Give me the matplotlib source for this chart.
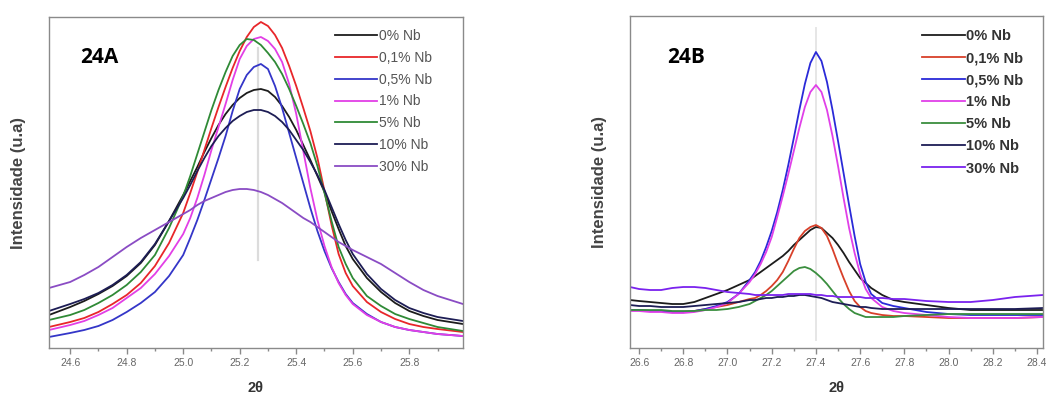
import matplotlib
matplotlib.use("Agg")
import matplotlib.pyplot as plt
from matplotlib.ticker import MultipleLocator, FormatStrFormatter

plt.rcParams['font.family'] = ['Liberation Sans', 'DejaVu Sans']

# ---------------- data ----------------
labels = ["0% Nb", "0,1% Nb", "0,5% Nb", "1% Nb", "5% Nb", "10% Nb", "30% Nb"]

# Panel 24A: reflection near 25.25 deg (2-theta)
theta_a = [24.525, 24.6, 24.65, 24.7, 24.75, 24.8, 24.85, 24.9, 24.95,
           25.0, 25.025, 25.05, 25.075, 25.1, 25.125, 25.15, 25.175, 25.2, 25.225,
           25.25, 25.275, 25.3, 25.325, 25.35, 25.375, 25.4, 25.425, 25.45, 25.475,
           25.5, 25.525, 25.55, 25.575, 25.6,
           25.65, 25.7, 25.75, 25.8, 25.85, 25.9, 25.99]
a_nb0 = [33, 41, 47, 54, 62, 72, 85, 103, 127,
         153, 167, 181, 196, 210, 223, 234, 243, 250, 255, 258, 259, 257, 251, 242,
         231, 218, 203, 188, 172, 156, 137, 119, 102, 89,
         70, 56, 45, 37, 32, 28, 24]
a_nb01 = [21, 26, 30, 36, 44, 53, 65, 82, 105,
          135, 155, 176, 198, 220, 241, 261, 280, 297, 311, 321, 326, 322, 313, 300,
          282, 262, 240, 217, 190, 157, 123, 94, 75, 62,
          46, 36, 29, 24, 21, 19, 16]
a_nb05 = [11, 15, 18, 22, 28, 36, 45, 56, 72,
          93, 110, 128, 148, 169, 190, 212, 237, 259, 273, 281, 284, 279, 262, 240,
          215, 190, 165, 140, 117, 97, 80, 66, 54, 45,
          34, 26, 21, 18, 16, 14, 12]
a_nb1 = [18, 23, 27, 33, 40, 50, 60, 74, 92,
         114, 130, 150, 173, 198, 221, 244, 268, 289, 302, 309, 311, 307, 299, 286,
         264, 234, 197, 160, 128, 102, 81, 65, 53, 44,
         33, 26, 21, 18, 16, 14, 12]
a_nb5 = [28, 33, 38, 45, 53, 63, 76, 93, 120,
         152, 172, 194, 216, 238, 258, 276, 292, 303, 309, 308, 303, 295, 286, 274,
         259, 242, 224, 205, 182, 155, 127, 101, 84, 70,
         52, 42, 34, 29, 25, 21, 17]
a_nb10 = [37, 44, 49, 55, 63, 73, 86, 104, 127,
          150, 163, 177, 190, 202, 212, 220, 227, 232, 236, 238, 238, 236, 232, 226,
          218, 208, 198, 186, 173, 158, 141, 124, 108, 94,
          74, 59, 48, 40, 35, 31, 27]
a_nb30 = [60, 66, 73, 81, 91, 101, 110, 118, 126,
          134, 138, 143, 147, 150, 153, 156, 158, 159, 159, 158, 156, 153, 149, 145,
          140, 135, 130, 126, 121, 116, 111, 106, 102, 98,
          91, 84, 75, 66, 58, 52, 44]

# Panel 24B: reflection near 27.4 deg (2-theta)
theta_b = [26.559, 26.6, 26.65, 26.7, 26.75, 26.8, 26.85, 26.9, 26.95, 27.0, 27.05,
           27.1, 27.125, 27.15, 27.175, 27.2, 27.225, 27.25, 27.275, 27.3, 27.325,
           27.35, 27.375, 27.4, 27.425, 27.45, 27.475, 27.5, 27.525, 27.55, 27.575,
           27.6, 27.625, 27.65, 27.7, 27.75, 27.8, 27.9, 28.0, 28.1, 28.2, 28.3,
           28.427]
b_nb0 = [48, 47, 46, 45, 44, 44, 46, 50, 54, 58, 63, 68,
         72, 76, 80, 84, 88, 92, 97, 103, 108, 113, 118, 121, 120, 115, 110, 103,
         95, 86, 78, 70, 65, 60,
         53, 48, 46, 43, 40, 38, 38, 38, 38]
b_nb01 = [38, 38, 37, 37, 36, 36, 37, 39, 41, 43, 46, 49,
          50, 53, 57, 62, 68, 76, 87, 99, 110, 117, 121, 123, 120, 112, 99, 84,
          70, 57, 47, 41, 37, 35,
          33, 32, 32, 31, 30, 30, 30, 30, 31]
b_nb05 = [38, 38, 37, 37, 36, 36, 37, 39, 42, 46, 54, 68,
          76, 87, 101, 117, 136, 158, 183, 210, 238, 264, 285, 296, 287, 266, 238,
          207, 175, 143, 112, 84, 66, 54,
          45, 42, 40, 36, 34, 33, 33, 33, 33]
b_nb1 = [37, 37, 36, 36, 35, 35, 36, 38, 41, 45, 54, 66,
         74, 84, 96, 111, 131, 152, 174, 197, 220, 241, 256, 263, 256, 238, 212,
         182, 150, 120, 95, 74, 59, 50,
         41, 37, 35, 33, 31, 30, 30, 30, 31]
b_nb5 = [38, 38, 38, 38, 37, 37, 37, 38, 38, 39, 41, 44,
         47, 50, 53, 57, 62, 67, 72, 77, 80, 81, 79, 75, 70, 64, 57, 50,
         44, 39, 35, 33, 31, 31,
         31, 31, 32, 33, 34, 34, 34, 34, 34]
b_nb10 = [43, 42, 42, 41, 41, 41, 42, 43, 44, 45, 46, 48,
          48, 49, 50, 50, 51, 51, 52, 52, 53, 53, 52, 51, 50, 48, 46, 45,
          44, 43, 42, 41, 41, 40,
          39, 39, 39, 39, 39, 39, 39, 39, 40]
b_nb30 = [61, 59, 58, 58, 60, 61, 61, 60, 58, 56, 55, 54,
          53, 53, 53, 53, 53, 53, 54, 54, 54, 54, 54, 53, 53, 52, 52, 51,
          51, 51, 51, 51, 50, 50,
          50, 49, 49, 47, 46, 46, 48, 51, 53]

colors_a = ["#1c1c1c", "#e8262a", "#3436c8", "#e23fe6", "#2f8a36", "#1d1d55", "#8a4cc4"]
colors_b = ["#1c1c1c", "#d8402a", "#2a2ad8", "#e040e8", "#3a8e3e", "#1d1d55", "#7a22ee"]

series_a = [a_nb0, a_nb01, a_nb05, a_nb1, a_nb5, a_nb10, a_nb30]
series_b = [b_nb0, b_nb01, b_nb05, b_nb1, b_nb5, b_nb10, b_nb30]

# ---------------- figure ----------------
fig = plt.figure(figsize=(10.46, 3.99), dpi=100)
ax_a = fig.add_axes([0.0468, 0.1278, 0.3958, 0.8296])
ax_b = fig.add_axes([0.6023, 0.1278, 0.3948, 0.8321])

spine_col = "#8a8a8a"
tick_col = "#666666"


def style_axes(ax, xlim, ylim):
    ax.set_xlim(*xlim)
    ax.set_ylim(*ylim)
    for s in ax.spines.values():
        s.set_color(spine_col)
        s.set_linewidth(1.0)
    ax.xaxis.set_major_locator(MultipleLocator(0.2))
    ax.xaxis.set_minor_locator(MultipleLocator(0.1))
    ax.xaxis.set_major_formatter(FormatStrFormatter("%.1f"))
    ax.tick_params(axis="x", which="major", direction="out", length=4, width=1,
                   color=spine_col, labelsize=7.5, labelcolor=tick_col, pad=3)
    ax.tick_params(axis="x", which="minor", direction="out", length=2.5, width=1,
                   color=spine_col)
    ax.set_yticks([])
    ax.set_xlabel("2θ", fontsize=10.5, fontweight="bold", color="#333333")
    ax.xaxis.set_label_coords(0.5, -0.1)
    ax.set_ylabel("Intensidade (u.a)", fontsize=12, fontweight="bold", color="#444444")
    ax.yaxis.set_label_coords(-0.056, 0.5)


# Panel A
ax_a.plot([25.265, 25.265], [88, 300], color="#dcdcdc", lw=1.6, zorder=0)
for ys, c, lab in zip(series_a, colors_a, labels):
    ax_a.plot(theta_a, ys, color=c, lw=1.3, label=lab)
style_axes(ax_a, (24.525, 25.99), (0, 331))
ax_a.text(0.075, 0.879, "24A", transform=ax_a.transAxes, fontsize=15,
          fontweight="bold", family="Open Sans", va="center", ha="left", color="black")
ax_a.legend(loc="upper left", bbox_to_anchor=(0.692, 0.964), frameon=False,
            fontsize=10, handlelength=3.0, handletextpad=0.15, labelspacing=0.565,
            borderpad=0, borderaxespad=0, labelcolor="#555555")

# Panel B
ax_b.plot([27.4, 27.4], [8, 320], color="#e6e6e6", lw=1.4, zorder=0)
for ys, c, lab in zip(series_b, colors_b, labels):
    ax_b.plot(theta_b, ys, color=c, lw=1.3, label=lab)
style_axes(ax_b, (26.559, 28.427), (0, 332))
ax_b.text(0.09, 0.876, "24B", transform=ax_b.transAxes, fontsize=15,
          fontweight="bold", family="Open Sans", va="center", ha="left", color="black")
ax_b.legend(loc="upper left", bbox_to_anchor=(0.708, 0.961), frameon=False,
            handlelength=2.9, handletextpad=0.1, labelspacing=0.555,
            borderpad=0, borderaxespad=0, labelcolor="#333333",
            prop={"weight": "bold", "size": 10.5})

fig.savefig("out.png", dpi=100)
